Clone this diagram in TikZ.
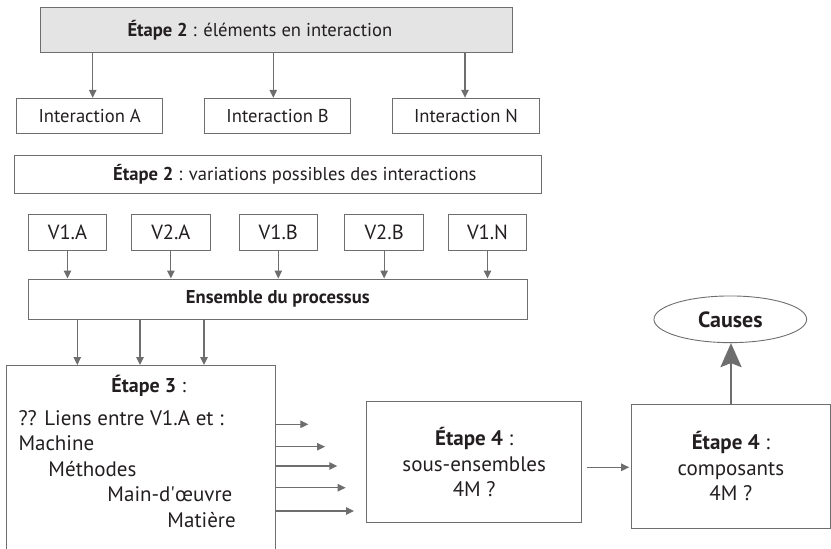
\documentclass[tikz,border=0pt]{standalone}
\usepackage{fontspec}
\setmainfont{PT Sans}
\usetikzlibrary{arrows.meta,shapes.geometric}
\definecolor{lc}{HTML}{6E6E6E}
\definecolor{fillg}{HTML}{E4E4E4}
\definecolor{tc}{HTML}{231F20}
\begin{document}
\begin{tikzpicture}[x=1pt,y=-1pt,
  font=\fontsize{18.6}{25}\selectfont, text=tc,
  box/.style={draw=lc, line width=1pt, rectangle, inner sep=0pt},
  vbox/.style={box, minimum width=78.4pt, minimum height=36pt, font=\fontsize{20.5}{25}\selectfont},
  ibox/.style={box, minimum width=146.5pt, minimum height=35pt},
  bigtxt/.style={font=\fontsize{21}{25.5}\selectfont},
  arr/.style={draw=lc, line width=1.1pt, -{Triangle[length=8pt,width=7.5pt]}},
  bigarr/.style={draw=lc, line width=2.6pt, -{Stealth[length=24pt,width=21pt,inset=4pt]}},
  ]
\clip (0,0) rectangle (831,549);
% Etape 2 : elements
\node[box, fill=fillg, minimum width=472.7pt, minimum height=45pt] (e2) at (276.35,29.8)
  {\hspace*{-33pt}\textbf{Étape 2} : éléments en interaction};
\node[ibox] (ia) at (89.7,115.8) {Interaction A};
\node[ibox] (ib) at (277.65,115.8) {Interaction B};
\node[ibox] (in) at (466,115.8) {Interaction N};
\draw[arr] (e2.south -| 92.7,0) -- (ia.north -| 92.7,0);
\draw[arr] (e2.south -| 273.3,0) -- (ib.north -| 273.3,0);
\draw[arr] (e2.south -| 465,0) -- (in.north -| 465,0);
% Etape 2 : variations
\node[box, minimum width=527.7pt, minimum height=37.6pt] (var) at (277.85,174.5)
  {\hspace*{34pt}\textbf{Étape 2} : variations possibles des interactions};
\node[vbox] (v1a) at (67.5,232) {V1.A};
\node[vbox] (v2a) at (170.85,232) {V2.A};
\node[vbox] (v1b) at (278.3,232) {V1.B};
\node[vbox] (v2b) at (384.15,232) {V2.B};
\node[vbox] (v1n) at (487.5,232) {V1.N};
\node[box, minimum width=499pt, minimum height=40.3pt] (ens) at (277.8,299.15)
  {\textbf{Ensemble du processus}};
\foreach \v in {v1a,v2a,v1b,v2b,v1n}
  \draw[arr] (\v.south) -- (\v.south |- ens.north);
% Etape 3
\node[box, anchor=north west, minimum width=269.6pt, minimum height=200pt] (e3) at (5.7,365) {};
\node[bigtxt, anchor=north west, align=left, inner sep=0pt] (e3t) at (18.3,375)
  {\hspace*{93pt}{\fontsize{20}{25}\selectfont\textbf{Étape 3} :}\\[7pt]
   ?? Liens entre V1.A et :\\
   Machine\\
   \hspace*{30pt}Méthodes\\
   \hspace*{89pt}Main-d\textquotesingle œuvre\\
   \hspace*{149pt}Matière};
\foreach \x in {77.3,140,204}
  \draw[arr] (ens.south -| \x,0) -- (e3.north -| \x,0);
\coordinate (t1) at (308.3,424.3);
\coordinate (t2) at (325,446.7);
\coordinate (t3) at (337.3,466);
\coordinate (t4) at (345.7,487.7);
\coordinate (t5) at (354,511);
\foreach \t in {t1,t2,t3,t4,t5}
  \draw[arr] (e3.east |- \t) -- (\t);
% Etape 4
\node[box, bigtxt, minimum width=215pt, minimum height=120.5pt, align=center] (e4a) at (474.2,462.2)
  {\textbf{Étape 4} :\\ sous-ensembles\\ 4M ?};
\node[box, bigtxt, minimum width=198.3pt, minimum height=124.7pt, align=center] (e4b) at (730.85,466.35)
  {\textbf{Étape 4} :\\ composants\\ 4M ?};
\draw[arr, shorten <=5pt, shorten >=2pt] (e4a.east |- 0,467.3) -- (e4b.west |- 0,467.3);
\node[draw=lc, line width=0.9pt, ellipse, minimum width=152.7pt, minimum height=46.7pt, inner sep=0pt,
  font=\fontsize{22}{25}\selectfont]
  (causes) at (730.3,319.3) {\textbf{Causes}};
\draw[bigarr] (e4b.north -| 731,0) -- (causes.south -| 731,0);
\end{tikzpicture}
\end{document}
